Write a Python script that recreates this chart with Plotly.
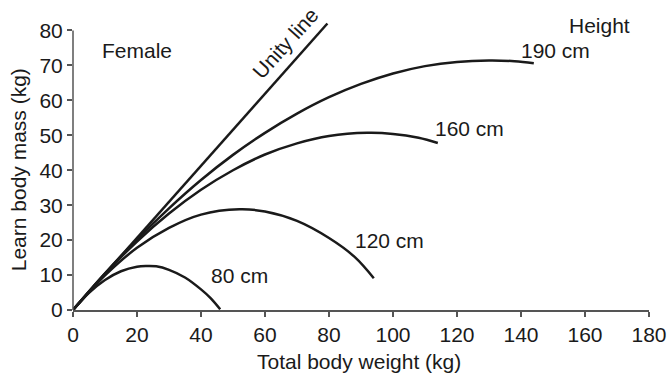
import plotly.graph_objects as go

# Values
unity_x = [0, 79.5]
unity_y = [0, 82]

h80_x = [0, 5, 10, 15, 20, 23, 26, 30, 35, 40, 43, 46]
h80_y = [0, 4.9, 8.6, 11.1, 12.4, 12.6, 12.5, 11.5, 9.3, 5.9, 3.4, 0.2]

h120_x = [0, 10, 20, 30, 40, 52, 60, 70, 80, 88, 94]
h120_y = [0, 9.9, 17.8, 23.5, 27.3, 28.8, 28.2, 25.5, 20.6, 15.2, 9.1]

h160_x = [0, 10, 20, 30, 40, 50, 60, 70, 80, 92, 100, 108, 114]
h160_y = [0, 10.4, 19.6, 27.6, 34.4, 40.0, 44.5, 47.7, 49.8, 50.7, 50.4, 49.3, 47.8]

h190_x = [0, 10, 20, 30, 40, 50, 60, 70, 80, 90, 100, 110, 120, 130, 138, 144]
h190_y = [0, 10.5, 20.2, 29.1, 37.2, 44.4, 50.7, 56.2, 60.9, 64.7, 67.7, 69.8, 71.0, 71.4, 71.2, 70.6]

x_ticks = [0, 20, 40, 60, 80, 100, 120, 140, 160, 180]
y_ticks = [0, 10, 20, 30, 40, 50, 60, 70, 80]

labels = [
    ("Female", 19.9, 74.3, 0),
    ("Unity line", 66.2, 76.4, -48),
    ("Height", 164.4, 81.4, 0),
    ("190 cm", 150.9, 74.3, 0),
    ("160 cm", 123.8, 51.9, 0),
    ("120 cm", 99.0, 20.0, 0),
    ("80 cm", 52.0, 9.9, 0),
]

FONT = "Liberation Sans, Arial, sans-serif"
FS = 21
LINE = dict(color="#1a1a1a", width=2.5)

fig = go.Figure()
for xs, ys in [(unity_x, unity_y), (h190_x, h190_y), (h160_x, h160_y),
               (h120_x, h120_y), (h80_x, h80_y)]:
    fig.add_trace(go.Scatter(x=xs, y=ys, mode="lines", line=dict(shape="spline", **LINE),
                             showlegend=False, hoverinfo="skip"))

for text, x, y, ang in labels:
    fig.add_annotation(x=x, y=y, text=text, showarrow=False, textangle=ang,
                       font=dict(family=FONT, size=FS, color="#1a1a1a"))

# axis titles
fig.add_annotation(xref="paper", yref="paper", x=0.497, y=-0.176, yanchor="middle",
                   xanchor="center",
                   text="Total body weight (kg)", showarrow=False,
                   font=dict(family=FONT, size=FS, color="#1a1a1a"))
fig.add_annotation(xref="paper", yref="y", x=0, xshift=-55, y=40,
                   xanchor="center", yanchor="middle",
                   text="Learn body mass (kg)", showarrow=False, textangle=-90,
                   font=dict(family=FONT, size=FS, color="#1a1a1a"))

# y axis line only up to 80
fig.add_shape(type="line", xref="paper", yref="y", x0=0, x1=0, y0=0, y1=80,
              line=dict(color="#555555", width=1.5))

fig.update_xaxes(range=[0, 180], tickvals=x_ticks, showline=True, linecolor="#555555",
                 linewidth=1.5, ticks="outside", ticklen=5, tickwidth=1.5, tickcolor="#555555",
                 showgrid=False, zeroline=False, automargin=False,
                 tickfont=dict(family=FONT, size=FS, color="#1a1a1a"))
fig.update_yaxes(range=[0, 83], tickvals=y_ticks, showline=False,
                 ticks="outside", ticklen=5, tickwidth=1.5, tickcolor="#555555",
                 showgrid=False, zeroline=False, automargin=False,
                 tickfont=dict(family=FONT, size=FS, color="#1a1a1a"))

fig.update_layout(width=668, height=375, plot_bgcolor="white", paper_bgcolor="white",
                  margin=dict(l=73, r=19, t=20, b=65))

fig.write_html("out.html", config={"displayModeBar": False},
               post_script="document.body.style.margin='0';")
